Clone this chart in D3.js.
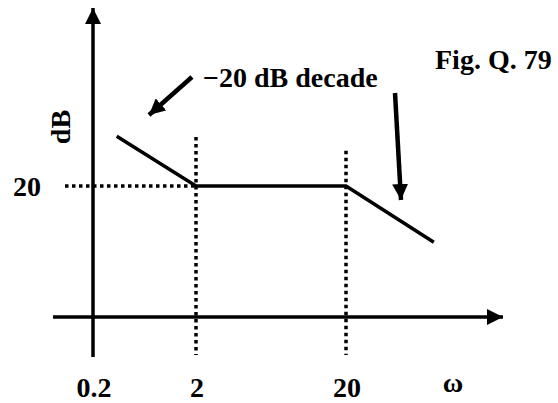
<!DOCTYPE html>
<html>
<head>
<meta charset="utf-8">
<script src="https://cdn.jsdelivr.net/npm/d3@7"></script>
<style>
  body { margin: 0; background: #fff; }
  text { font-family: "Liberation Serif", "Times New Roman", Times, serif; font-weight: bold; fill: #000; }
</style>
</head>
<body>
<div id="chart"></div>
<script>
// Asymptotic Bode magnitude (schematic)
const omega = [0.34, 2, 20, 77];
const gainDb = [27.6, 20, 20, 11.4];

// corner frequencies and their labels
const xTicks = [0.2, 2, 20];
const xTickLabels = ["0.2", "2", "20"];
const yTicks = [20];
const yTickLabels = ["20"];
const cornerOmega = [2, 20];
const cornerTopDb = [27.5, 25.4];

const width = 558, height = 403;

const svg = d3.select("#chart")
    .append("svg")
    .attr("width", width)
    .attr("height", height);

// the drawing is not to true log scale, so use a piecewise log scale
const x = d3.scaleLog()
    .domain([0.2, 2, 20])
    .range([93, 196, 346]);

const y = d3.scaleLinear()
    .domain([0, 20])
    .range([317, 186]);

// arrow heads
const defs = svg.append("defs");
defs.append("marker")
    .attr("id", "head")
    .attr("viewBox", "0 0 10 10")
    .attr("refX", 10)
    .attr("refY", 5)
    .attr("markerUnits", "userSpaceOnUse")
    .attr("markerWidth", 16)
    .attr("markerHeight", 16)
    .attr("orient", "auto")
    .append("path")
    .attr("d", "M0,0 L10,5 L0,10 Z")
    .attr("fill", "#000");

// dotted guides
svg.append("line")
    .attr("x1", 65)
    .attr("x2", x(2))
    .attr("y1", y(20))
    .attr("y2", y(20))
    .attr("stroke", "#000")
    .attr("stroke-width", 3.5)
    .attr("stroke-dasharray", "3.5,3.5");

svg.selectAll(".guide")
    .data(cornerOmega)
    .enter().append("line")
    .attr("class", "guide")
    .attr("x1", d => x(d))
    .attr("x2", d => x(d))
    .attr("y1", (d, i) => y(cornerTopDb[i]))
    .attr("y2", 355)
    .attr("stroke", "#000")
    .attr("stroke-width", 3.5)
    .attr("stroke-dasharray", "3.5,3.5");

// axes
svg.append("line")
    .attr("x1", 53)
    .attr("x2", 503)
    .attr("y1", y(0))
    .attr("y2", y(0))
    .attr("stroke", "#000")
    .attr("stroke-width", 3.5)
    .attr("marker-end", "url(#head)");

svg.append("line")
    .attr("x1", x(0.2))
    .attr("x2", x(0.2))
    .attr("y1", 357)
    .attr("y2", 8)
    .attr("stroke", "#000")
    .attr("stroke-width", 3.5)
    .attr("marker-end", "url(#head)");

// magnitude asymptotes
const line = d3.line()
    .x((d, i) => x(omega[i]))
    .y(d => y(d));

svg.append("path")
    .datum(gainDb)
    .attr("d", line)
    .attr("fill", "none")
    .attr("stroke", "#000")
    .attr("stroke-width", 3.5);

// tick labels
svg.selectAll(".xlab")
    .data(xTicks)
    .enter().append("text")
    .attr("class", "xlab")
    .attr("x", d => x(d) + 1)
    .attr("y", 397)
    .attr("text-anchor", "middle")
    .style("font-size", "28px")
    .text((d, i) => xTickLabels[i]);

svg.selectAll(".ylab")
    .data(yTicks)
    .enter().append("text")
    .attr("class", "ylab")
    .attr("x", 27)
    .attr("y", d => y(d) + 10)
    .attr("text-anchor", "middle")
    .style("font-size", "28px")
    .text((d, i) => yTickLabels[i]);

// axis titles
svg.append("text")
    .attr("x", 453)
    .attr("y", 392)
    .attr("text-anchor", "middle")
    .style("font-size", "28px")
    .text("ω");

svg.append("text")
    .attr("transform", "translate(70,127) rotate(-90)")
    .attr("text-anchor", "middle")
    .style("font-size", "28px")
    .text("dB");

// annotations
svg.append("text")
    .attr("x", 203)
    .attr("y", 87)
    .style("font-size", "28px")
    .text("−20 dB decade");

svg.append("text")
    .attr("x", 435)
    .attr("y", 69)
    .style("font-size", "28px")
    .text("Fig. Q. 79");

svg.append("line")
    .attr("x1", 192)
    .attr("y1", 77)
    .attr("x2", 149)
    .attr("y2", 115)
    .attr("stroke", "#000")
    .attr("stroke-width", 4.5)
    .attr("marker-end", "url(#head)");

svg.append("line")
    .attr("x1", 395)
    .attr("y1", 93)
    .attr("x2", 401)
    .attr("y2", 200)
    .attr("stroke", "#000")
    .attr("stroke-width", 4.5)
    .attr("marker-end", "url(#head)");
</script>
</body>
</html>
